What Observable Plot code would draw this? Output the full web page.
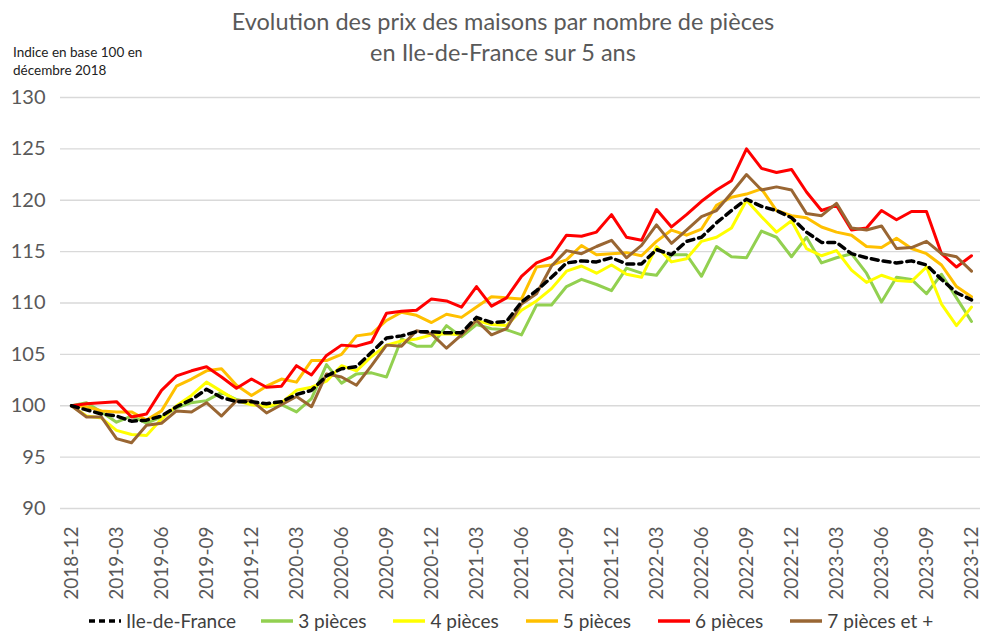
<!DOCTYPE html>
<html>
<head>
<meta charset="utf-8">
<script src="https://cdn.jsdelivr.net/npm/d3@7"></script>
<script src="https://cdn.jsdelivr.net/npm/@observablehq/plot@0.6"></script>
<style>
  body { margin: 0; background: #fff; font-family: Lato, sans-serif; }
  #wrap { position: relative; width: 981px; height: 633px; overflow: hidden; }
  #title { position: absolute; left: 0px; width: 1006px; top: 6px; text-align: center; color: #595959; font-size: 23.5px; line-height: 31px; }
  #ylabel { position: absolute; left: 13px; top: 43px; color: #222; font-size: 13.5px; line-height: 18px; }
  #legend { position: absolute; top: 609px; left: 88px; display: flex; align-items: center; color: #404040; font-size: 19px; white-space: nowrap; }
  #legend .item { display: flex; align-items: center; }
  #legend svg { margin-right: 4px; }
  #chart { position: absolute; left: 0; top: 0; }
</style>
</head>
<body>
<div id="wrap">
  <div id="chart"></div>
  <div id="title">Evolution des prix des maisons par nombre de pièces<br>en Ile-de-France sur 5 ans</div>
  <div id="ylabel">Indice en base 100 en<br>décembre 2018</div>
  <div id="legend"></div>
</div>
<script>
const months = [
  "2018-12",
  "2019-01","2019-02","2019-03","2019-04","2019-05","2019-06","2019-07","2019-08","2019-09","2019-10","2019-11","2019-12",
  "2020-01","2020-02","2020-03","2020-04","2020-05","2020-06","2020-07","2020-08","2020-09","2020-10","2020-11","2020-12",
  "2021-01","2021-02","2021-03","2021-04","2021-05","2021-06","2021-07","2021-08","2021-09","2021-10","2021-11","2021-12",
  "2022-01","2022-02","2022-03","2022-04","2022-05","2022-06","2022-07","2022-08","2022-09","2022-10","2022-11","2022-12",
  "2023-01","2023-02","2023-03","2023-04","2023-05","2023-06","2023-07","2023-08","2023-09","2023-10","2023-11","2023-12"
];
const tickLabels = ["2018-12","2019-03","2019-06","2019-09","2019-12","2020-03","2020-06","2020-09","2020-12",
  "2021-03","2021-06","2021-09","2021-12","2022-03","2022-06","2022-09","2022-12","2023-03","2023-06","2023-09","2023-12"];
const yTicks = [90, 95, 100, 105, 110, 115, 120, 125, 130];

const seriesNames = ["Ile-de-France", "3 pièces", "4 pièces", "5 pièces", "6 pièces", "7 pièces et +"];

const idf = [100,99.6,99.2,99.0,98.5,98.6,99.0,99.9,100.6,101.6,100.8,100.4,100.4,
  100.2,100.4,101.1,101.5,102.9,103.6,103.8,105.2,106.6,106.8,107.2,107.2,
  107.1,107.1,108.6,108.1,108.2,110.1,111.2,112.5,113.9,114.1,114.0,114.4,
  113.8,113.8,115.2,114.7,116.0,116.4,117.8,119.0,120.1,119.4,119.0,118.3,
  116.9,115.9,115.9,114.8,114.4,114.1,113.9,114.1,113.7,112.3,111.0,110.3];
const p3 = [100,100.3,99.4,98.4,99.0,98.3,98.9,99.8,100.3,100.5,101.3,100.6,100.3,
  99.9,100.1,99.4,100.7,104.0,102.2,103.1,103.2,102.8,106.5,105.8,105.8,
  107.8,106.7,107.9,107.5,107.4,106.9,109.8,109.8,111.6,112.3,111.8,111.2,
  113.4,112.9,112.7,114.7,114.7,112.6,115.5,114.5,114.4,117.0,116.4,114.5,
  116.4,113.9,114.4,114.8,112.9,110.1,112.5,112.3,110.9,112.8,110.5,108.2];
const p4 = [100,99.0,98.8,97.6,97.2,97.1,98.7,100.0,101.0,102.3,101.4,100.5,100.1,
  99.9,100.3,101.5,101.8,102.4,103.9,103.4,104.8,105.9,106.3,106.5,106.9,
  107.0,106.9,108.3,107.9,107.8,109.3,110.2,111.4,113.1,113.6,112.9,113.7,
  112.8,112.5,115.5,114.0,114.3,116.0,116.4,117.3,120.0,118.4,116.9,118.0,
  115.3,114.6,115.1,113.2,112.0,112.7,112.2,112.1,113.5,109.9,107.8,109.6];
const p5 = [100,99.9,99.5,99.4,99.4,98.6,99.5,101.9,102.6,103.4,103.6,102.0,101.0,
  101.9,102.6,102.3,104.4,104.4,105.0,106.8,107.0,108.3,109.1,108.8,108.1,
  108.9,108.6,109.6,110.6,110.5,110.4,113.5,113.7,114.2,115.6,114.7,114.8,
  114.9,114.6,116.0,117.1,116.6,117.2,119.5,120.3,120.6,121.1,119.0,118.5,
  118.3,117.4,116.9,116.6,115.5,115.4,116.3,115.3,114.8,113.7,111.6,110.6];
const p6 = [100,100.2,100.3,100.4,98.9,99.2,101.5,102.9,103.4,103.8,102.8,101.7,102.6,
  101.8,101.9,103.9,103.0,104.9,105.9,105.8,106.2,109.0,109.2,109.3,110.4,
  110.2,109.6,111.6,109.7,110.5,112.6,113.9,114.5,116.6,116.5,116.9,118.6,
  116.4,116.1,119.1,117.4,118.6,119.9,121.0,121.9,125.0,123.1,122.7,123.0,
  120.8,119.0,119.5,117.1,117.3,119.0,118.1,118.9,118.9,114.8,113.5,114.6];
const p7 = [100,98.9,98.9,96.8,96.4,98.1,98.3,99.5,99.4,100.3,99.0,100.5,100.5,
  99.3,100.1,100.9,99.9,103.1,102.8,102.0,103.9,105.9,105.8,107.3,107.0,
  105.6,106.9,108.3,106.9,107.5,109.9,110.9,113.6,115.1,114.8,115.5,116.1,
  114.4,115.6,117.6,115.8,117.1,118.4,119.0,120.7,122.5,121.0,121.3,121.0,
  118.7,118.5,119.7,117.3,117.1,117.5,115.3,115.4,116.0,114.8,114.5,113.1];

const colors = ["#000000", "#92D050", "#FFFF00", "#FFC000", "#FF0000", "#996633"];
const valuesList = [idf, p3, p4, p5, p6, p7];

const toRows = (vals, name) => vals.map((v, i) => ({month: months[i], value: v, series: name}));
const rows = valuesList.map((v, k) => toRows(v, seriesNames[k]));

const lineMarks = [];
for (let k = 1; k < 6; k++) {
  lineMarks.push(Plot.line(rows[k], {x: "month", y: "value", stroke: colors[k], strokeWidth: 3, strokeLinejoin: "round"}));
}
lineMarks.push(Plot.line(rows[0], {x: "month", y: "value", stroke: colors[0], strokeWidth: 3.5, strokeDasharray: "7,5"}));

const chart = Plot.plot({
  width: 981,
  height: 633,
  marginTop: 97,
  marginBottom: 125,
  marginLeft: 60,
  marginRight: 1,
  style: {fontFamily: "Lato, sans-serif", background: "transparent"},
  x: {type: "point", domain: months, range: [67, 975], padding: 0},
  y: {domain: [90, 130], range: [508, 97]},
  marks: [
    Plot.ruleY(yTicks, {stroke: "#d9d9d9", strokeWidth: 1.3}),
    Plot.axisY({ticks: yTicks, tickSize: 0, tickPadding: 15, fontSize: 20, fill: "#595959", label: null}),
    Plot.axisX({ticks: tickLabels, tickSize: 0, tickPadding: 18, tickRotate: -90, fontSize: 19, fill: "#595959", label: null}),
    ...lineMarks
  ]
});
document.getElementById("chart").appendChild(chart);

// legend
const legend = document.getElementById("legend");
const gaps = [24, 26, 26, 26, 26, 0];
seriesNames.forEach((name, k) => {
  const item = document.createElement("div");
  item.className = "item";
  item.style.marginRight = gaps[k] + "px";
  const ns = "http://www.w3.org/2000/svg";
  const sw = document.createElementNS(ns, "svg");
  sw.setAttribute("width", 34); sw.setAttribute("height", 10);
  const ln = document.createElementNS(ns, "line");
  ln.setAttribute("x1", 1); ln.setAttribute("x2", 33); ln.setAttribute("y1", 5); ln.setAttribute("y2", 5);
  ln.setAttribute("stroke", colors[k]);
  ln.setAttribute("stroke-width", 3.5);
  if (k === 0) ln.setAttribute("stroke-dasharray", "6,4");
  sw.appendChild(ln);
  item.appendChild(sw);
  const t = document.createElement("span");
  t.textContent = name;
  item.appendChild(t);
  legend.appendChild(item);
});
</script>
</body>
</html>
